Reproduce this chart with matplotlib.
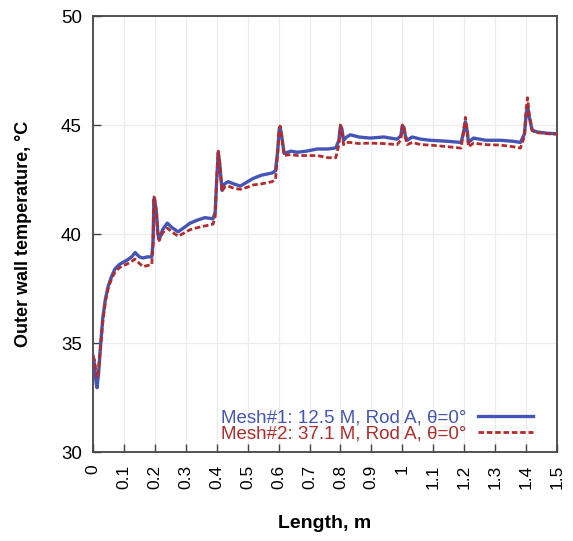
import numpy as np
import matplotlib
matplotlib.use('Agg')
import matplotlib.pyplot as plt

plt.rcParams['font.family'] = ['Liberation Sans', 'DejaVu Sans']

# Length positions (m)
length = [0.0, 0.005, 0.01, 0.013, 0.018, 0.025, 0.032, 0.04, 0.049, 0.06,
          0.071, 0.085, 0.097, 0.11, 0.125, 0.136, 0.15, 0.162, 0.175, 0.19,
          0.194, 0.197, 0.2, 0.205, 0.21, 0.214, 0.225, 0.24, 0.255, 0.275,
          0.295, 0.314, 0.34, 0.362, 0.388, 0.395, 0.4, 0.405, 0.41, 0.417,
          0.425, 0.437, 0.455, 0.476, 0.5, 0.518, 0.545, 0.579, 0.59, 0.597,
          0.602, 0.605, 0.61, 0.618, 0.64, 0.66, 0.69, 0.725, 0.76, 0.785,
          0.795, 0.8, 0.805, 0.81, 0.82, 0.832, 0.86, 0.896, 0.94, 0.983,
          0.995, 1.0, 1.005, 1.01, 1.016, 1.032, 1.06, 1.09, 1.15, 1.19,
          1.197, 1.204, 1.21, 1.214, 1.23, 1.27, 1.317, 1.36, 1.382, 1.395,
          1.4, 1.405, 1.41, 1.42, 1.437, 1.47, 1.5]

# Mesh#1: 12.5 M cells
mesh1 = [34.4, 34.0, 33.2, 32.95, 33.6, 35.0, 36.2, 37.0, 37.6, 38.05,
         38.4, 38.6, 38.7, 38.8, 38.95, 39.15, 38.95, 38.9, 38.95, 38.95,
         39.6, 41.6, 41.5, 41.0, 40.0, 39.75, 40.2, 40.5, 40.3, 40.1,
         40.3, 40.5, 40.65, 40.75, 40.7, 41.0, 42.5, 43.75, 43.2, 42.0,
         42.3, 42.4, 42.3, 42.2, 42.4, 42.55, 42.7, 42.8, 42.9, 43.8,
         44.8, 44.9, 44.5, 43.7, 43.8, 43.75, 43.8, 43.9, 43.9, 43.95,
         44.3, 44.95, 44.8, 44.3, 44.45, 44.55, 44.45, 44.4, 44.45, 44.35,
         44.5, 44.95, 44.9, 44.5, 44.3, 44.45, 44.35, 44.3, 44.25, 44.2,
         44.6, 45.15, 44.7, 44.2, 44.4, 44.3, 44.3, 44.25, 44.2, 44.6,
         45.4, 45.9, 45.4, 44.75, 44.68, 44.62, 44.6]

# Mesh#2: 37.1 M cells
mesh2 = [34.4, 34.2, 33.6, 33.4, 33.8, 34.9, 36.0, 36.9, 37.5, 37.95,
         38.25, 38.45, 38.55, 38.62, 38.75, 38.85, 38.65, 38.5, 38.55, 38.6,
         39.5, 41.7, 41.6, 41.0, 39.9, 39.7, 40.05, 40.27, 40.1, 39.9,
         40.05, 40.2, 40.3, 40.37, 40.45, 40.8, 42.5, 43.8, 43.2, 41.95,
         42.15, 42.2, 42.1, 42.05, 42.15, 42.25, 42.3, 42.4, 42.5, 43.7,
         44.8, 44.95, 44.5, 43.6, 43.65, 43.6, 43.6, 43.6, 43.5, 43.5,
         44.1, 45.0, 44.8, 44.1, 44.2, 44.2, 44.15, 44.17, 44.15, 44.1,
         44.3, 45.0, 44.9, 44.4, 44.1, 44.2, 44.1, 44.08, 44.0, 43.94,
         44.6, 45.35, 44.7, 44.0, 44.17, 44.1, 44.08, 44.0, 43.94, 44.5,
         45.7, 46.25, 45.5, 44.75, 44.65, 44.6, 44.58]

labels = ['Mesh#1: 12.5 M, Rod A, \u03b8=0\u00b0', 'Mesh#2: 37.1 M, Rod A, \u03b8=0\u00b0']
x_ticks = [round(0.1 * i, 1) for i in range(16)]
x_ticklabels = ['0', '0.1', '0.2', '0.3', '0.4', '0.5', '0.6', '0.7', '0.8', '0.9',
                '1', '1.1', '1.2', '1.3', '1.4', '1.5']
y_ticks = [30, 35, 40, 45, 50]

blue = '#4455b8'
red = '#b52a2a'

fig = plt.figure(figsize=(5.73, 5.41), dpi=100)
ax = fig.add_axes([0.1623, 0.1645, 0.8097, 0.8059])

ax.plot(length, mesh1, color=blue, lw=2.4, label=labels[0], zorder=3)
ax.plot(length, mesh2, color=red, lw=2.0, ls=(0, (2, 1)), label=labels[1], zorder=4)

ax.set_xlim(0, 1.5)
ax.set_ylim(30, 50)
ax.set_xticks(x_ticks)
ax.set_xticklabels(x_ticklabels, rotation=90)
ax.set_yticks(y_ticks)
ax.grid(True, color='#ececec', lw=0.9)
ax.set_axisbelow(True)

ax.tick_params(direction='in', length=6, width=1, color='#444444',
               top=False, right=False)
ax.tick_params(axis='x', pad=9, labelsize=12.5)
ax.tick_params(axis='y', pad=8, labelsize=13.5)
for sp in ax.spines.values():
    sp.set_color('#444444')
    sp.set_linewidth(1.3)

ax.set_xlabel('Length, m', fontsize=14, fontweight='bold')
ax.set_ylabel('Outer wall temperature, \u00b0C', fontsize=13, fontweight='bold')
ax.xaxis.set_label_coords(0.5, -0.145)
ax.yaxis.set_label_coords(-0.131, 0.5)

leg = ax.legend(loc='lower right', bbox_to_anchor=(0.948, 0.022), frameon=False,
                markerfirst=False, labelcolor='linecolor', fontsize=13.5,
                handlelength=2.95, handletextpad=0.6, labelspacing=-0.08,
                borderpad=0, borderaxespad=0)

fig.savefig('out.png', dpi=100)
